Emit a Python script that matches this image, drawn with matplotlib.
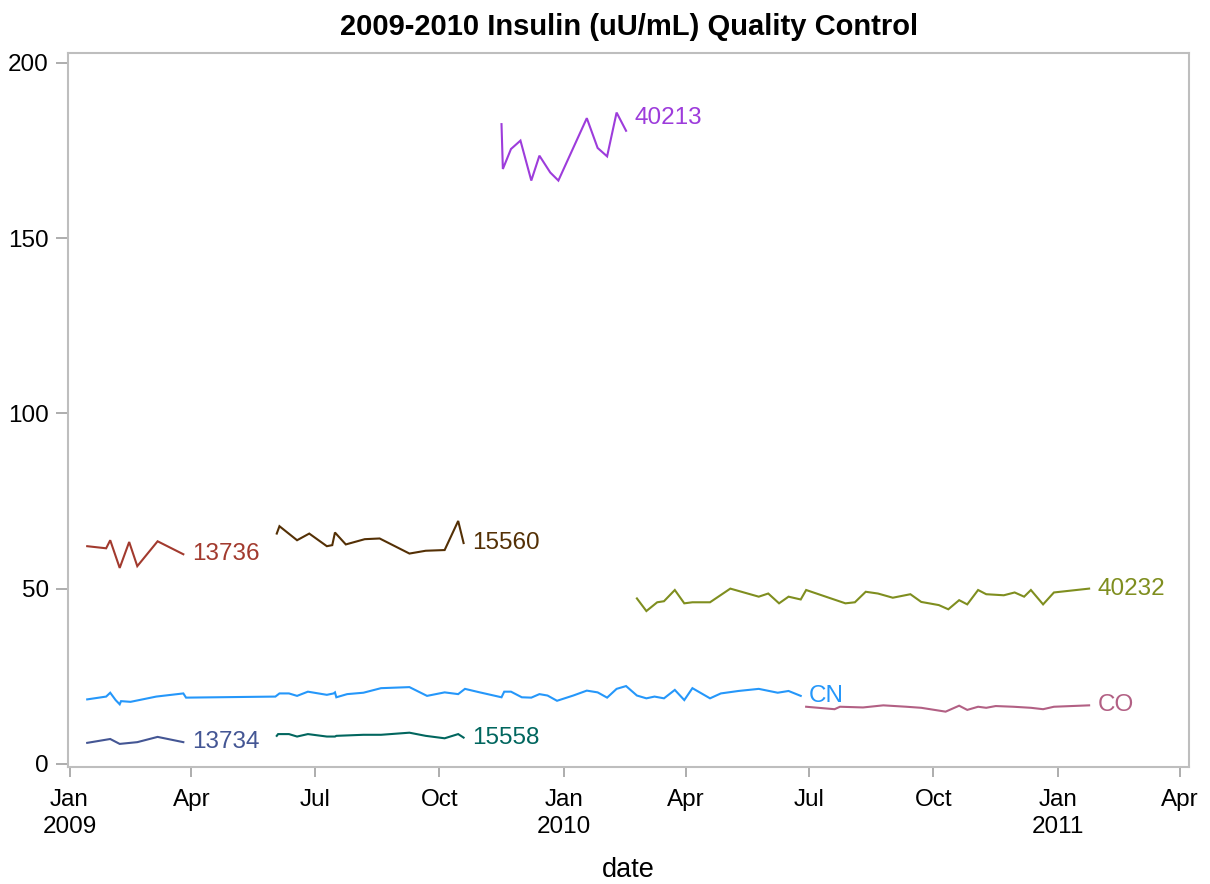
import numpy as np
import matplotlib
matplotlib.use("Agg")
import matplotlib.pyplot as plt
import matplotlib.dates as mdates

plt.rcParams["font.family"] = ["Liberation Sans", "DejaVu Sans"]

# QC lot results (uU/mL) by run date
lot_13734_dates = ["2009-01-14", "2009-01-31", "2009-02-07", "2009-02-20",
                   "2009-03-07", "2009-03-26"]
lot_13734_vals = [6.0, 7.1, 5.7, 6.2, 7.7, 6.2]

lot_13736_dates = ["2009-01-14", "2009-01-28", "2009-01-31", "2009-02-07",
                   "2009-02-14", "2009-02-20", "2009-03-07", "2009-03-26"]
lot_13736_vals = [62.1, 61.5, 63.8, 55.9, 63.3, 56.4, 63.5, 59.8]

lot_15558_dates = ["2009-06-03", "2009-06-04", "2009-06-12", "2009-06-18",
                   "2009-06-26", "2009-07-10", "2009-07-16", "2009-07-17",
                   "2009-08-06", "2009-08-19", "2009-09-09", "2009-09-21",
                   "2009-10-05", "2009-10-15", "2009-10-19"]
lot_15558_vals = [8.0, 8.5, 8.5, 7.8, 8.5, 7.8, 7.8, 8.0,
                  8.3, 8.3, 8.9, 8.0, 7.3, 8.5, 7.5]

lot_15560_dates = ["2009-06-03", "2009-06-05", "2009-06-18", "2009-06-27",
                   "2009-07-10", "2009-07-14", "2009-07-16", "2009-07-24",
                   "2009-08-07", "2009-08-18", "2009-09-09", "2009-09-21",
                   "2009-10-05", "2009-10-15", "2009-10-19"]
lot_15560_vals = [65.7, 67.8, 63.8, 65.7, 62.1, 62.4, 66.0, 62.6,
                  64.1, 64.3, 60.0, 60.8, 61.0, 69.3, 63.0]

lot_40213_dates = ["2009-11-16", "2009-11-17", "2009-11-23", "2009-11-30",
                   "2009-12-08", "2009-12-14", "2009-12-22", "2009-12-28",
                   "2010-01-18", "2010-01-26", "2010-02-02", "2010-02-09",
                   "2010-02-16"]
lot_40213_vals = [182.5, 169.7, 175.4, 177.8, 166.4, 173.5, 168.7, 166.4,
                  184.2, 175.7, 173.3, 185.8, 180.6]

lot_40232_dates = ["2010-02-24", "2010-03-03", "2010-03-11", "2010-03-16",
                   "2010-03-24", "2010-03-31", "2010-04-06", "2010-04-19",
                   "2010-05-04", "2010-05-25", "2010-06-01", "2010-06-09",
                   "2010-06-16", "2010-06-25", "2010-06-29", "2010-07-28",
                   "2010-08-04", "2010-08-12", "2010-08-21", "2010-09-01",
                   "2010-09-14", "2010-09-22", "2010-10-05", "2010-10-12",
                   "2010-10-20", "2010-10-26", "2010-11-03", "2010-11-09",
                   "2010-11-22", "2010-11-30", "2010-12-07", "2010-12-12",
                   "2010-12-21", "2010-12-29", "2011-01-24"]
lot_40232_vals = [47.2, 43.6, 46.1, 46.4, 49.6, 45.8, 46.1, 46.1,
                  50.0, 47.7, 48.6, 45.8, 47.7, 46.9, 49.6, 45.8,
                  46.1, 49.1, 48.6, 47.4, 48.4, 46.2, 45.3, 44.1,
                  46.7, 45.5, 49.6, 48.4, 48.1, 48.9, 47.7, 49.6,
                  45.5, 48.9, 50.0]

cn_dates = ["2009-01-14", "2009-01-28", "2009-01-31", "2009-02-04",
            "2009-02-07", "2009-02-08", "2009-02-15", "2009-03-06",
            "2009-03-26", "2009-03-28", "2009-06-02", "2009-06-05",
            "2009-06-12", "2009-06-18", "2009-06-26", "2009-07-10",
            "2009-07-15", "2009-07-16", "2009-07-17", "2009-07-25",
            "2009-08-06", "2009-08-19", "2009-09-09", "2009-09-22",
            "2009-10-05", "2009-10-15", "2009-10-20", "2009-10-31",
            "2009-11-16", "2009-11-18", "2009-11-23", "2009-12-01",
            "2009-12-08", "2009-12-14", "2009-12-20", "2009-12-27",
            "2010-01-08", "2010-01-18", "2010-01-26", "2010-02-02",
            "2010-02-09", "2010-02-16", "2010-02-24", "2010-03-03",
            "2010-03-09", "2010-03-16", "2010-03-24", "2010-03-31",
            "2010-04-06", "2010-04-19", "2010-04-27", "2010-05-10",
            "2010-05-25", "2010-06-08", "2010-06-16", "2010-06-25"]
cn_vals = [18.4, 19.2, 20.3, 18.2, 17.0, 17.9, 17.7, 19.2,
           20.1, 18.9, 19.2, 20.1, 20.1, 19.4, 20.6, 19.7,
           20.1, 20.4, 19.0, 19.9, 20.3, 21.6, 21.9, 19.4,
           20.4, 19.9, 21.4, 20.4, 19.0, 20.6, 20.6, 19.0,
           18.9, 19.9, 19.5, 18.0, 19.5, 20.9, 20.4, 18.9,
           21.4, 22.2, 19.5, 18.7, 19.2, 18.7, 21.1, 18.2,
           21.6, 18.7, 20.1, 20.8, 21.4, 20.3, 20.8, 19.4]

co_dates = ["2010-06-29", "2010-07-20", "2010-07-24", "2010-08-10",
            "2010-08-25", "2010-09-11", "2010-09-22", "2010-10-10",
            "2010-10-20", "2010-10-26", "2010-11-03", "2010-11-09",
            "2010-11-16", "2010-11-29", "2010-12-12", "2010-12-21",
            "2010-12-29", "2011-01-24"]
co_vals = [16.3, 15.6, 16.3, 16.1, 16.7, 16.3, 16.0, 14.9,
           16.6, 15.4, 16.3, 16.0, 16.5, 16.3, 16.0, 15.6,
           16.3, 16.7]

series = [
    ("13734", lot_13734_dates, lot_13734_vals, "#445694"),
    ("13736", lot_13736_dates, lot_13736_vals, "#A23A2E"),
    ("15558", lot_15558_dates, lot_15558_vals, "#01665E"),
    ("15560", lot_15560_dates, lot_15560_vals, "#543005"),
    ("40213", lot_40213_dates, lot_40213_vals, "#9D3CDB"),
    ("40232", lot_40232_dates, lot_40232_vals, "#7F8E1F"),
    ("CN", cn_dates, cn_vals, "#2597FA"),
    ("CO", co_dates, co_vals, "#B26084"),
]

# curve label nudges (points) where the label would sit on top of the line
label_dy = {"40213": 9}

fig = plt.figure(figsize=(12.1, 8.84), dpi=100)
ax = fig.add_axes([0.0564, 0.1327, 0.9265, 0.807])

for name, dates, vals, color in series:
    x = np.array(dates, dtype="datetime64[D]")
    ax.plot(x, vals, color=color, linewidth=1.5, solid_joinstyle="miter")
    ax.annotate(name, xy=(x[-1], vals[-1]), xytext=(6, label_dy.get(name, 0)),
                textcoords="offset points", ha="left", va="center",
                color=color, fontsize=17.5)

ax.set_xlim(np.datetime64("2008-12-31"), np.datetime64("2011-04-08"))
ax.set_ylim(-0.8, 202.7)
ax.set_yticks([0, 50, 100, 150, 200])


def month_label(v, pos):
    d = mdates.num2date(v)
    if d.month == 1:
        return "{}\n{}".format(d.strftime("%b"), d.year)
    return d.strftime("%b")


ax.xaxis.set_major_locator(mdates.MonthLocator(bymonth=[1, 4, 7, 10]))
ax.xaxis.set_major_formatter(plt.FuncFormatter(month_label))

for s in ax.spines.values():
    s.set_color("#BEBEBE")
    s.set_linewidth(1.5)

ax.tick_params(axis="both", colors="#A0A0A0", labelcolor="black",
               labelsize=17.5, width=1.2)
ax.tick_params(axis="x", length=7, pad=9)
ax.tick_params(axis="y", length=9, pad=5)
for lbl in ax.get_xticklabels():
    lbl.set_linespacing(1.3)

ax.set_xlabel("date", fontsize=19.5, labelpad=14)
ax.set_title("2009-2010 Insulin (uU/mL) Quality Control",
             fontsize=21, fontweight="bold", pad=13)

fig.savefig("out.png", dpi=100)
